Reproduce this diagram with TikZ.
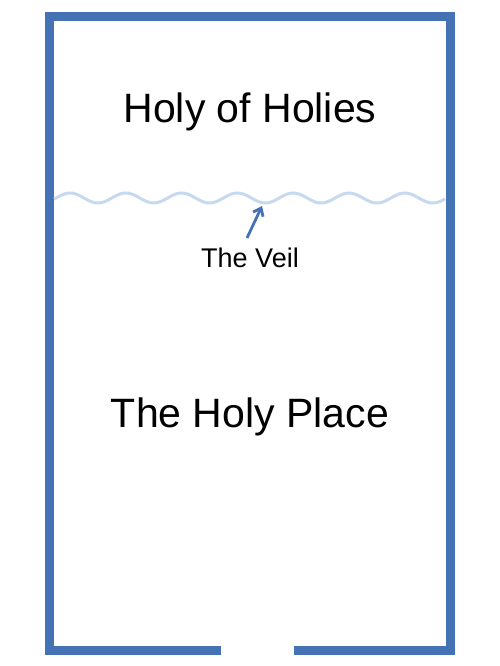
\documentclass[tikz,border=0pt]{standalone}
\usepackage{fontspec}
\setmainfont{Liberation Sans}
\usetikzlibrary{arrows.meta}
\definecolor{wallblue}{RGB}{68,114,180}
\definecolor{veilblue}{RGB}{198,217,240}
\tikzset{
  wall/.style={draw=wallblue, line width=9pt, line join=miter, line cap=butt},
  veil/.style={draw=veilblue, line width=3pt},
  pointer/.style={draw=wallblue, line width=2.8pt, -{Straight Barb[length=7pt,width=11pt]}},
  bigtext/.style={font=\fontsize{41}{48}\selectfont, inner sep=0pt},
  smalltext/.style={font=\fontsize{27}{32}\selectfont, inner sep=0pt}
}
\begin{document}
\begin{tikzpicture}[x=1pt,y=-1pt]
\useasboundingbox (0,0) rectangle (500,666);
\fill[white] (0,0) rectangle (500,666);
% walls
\coordinate (doorL) at (221,650.5);
\coordinate (cBL) at (49.5,650.5);
\coordinate (cTL) at (49.5,16.5);
\coordinate (cTR) at (450,16.5);
\coordinate (cBR) at (450,650.5);
\coordinate (doorR) at (294,650.5);
\draw[wall] (doorL) -- (cBL) -- (cTL) -- (cTR) -- (cBR) -- (doorR);
% veil
\draw[veil] plot[domain=54:445, samples=240, smooth] (\x,{198-5*cos((\x-70)*6.4516)});
% texts
\node[bigtext] (holies) at (250,112) {Holy of Holies};
\node[bigtext] (place) at (250,417) {The Holy Place};
\node[smalltext] (veiltxt) at (250,258) {The Veil};
% pointer
\coordinate (ptail) at (247,238);
\coordinate (ptip) at (262,206);
\draw[pointer] (ptail) -- (ptip);
\end{tikzpicture}
\end{document}
